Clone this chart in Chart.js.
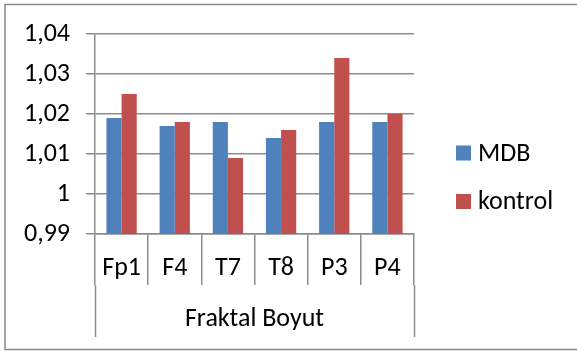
<!DOCTYPE html>
<html>
<head>
<meta charset="utf-8">
<script src="https://cdn.jsdelivr.net/npm/chart.js@4/dist/chart.umd.min.js"></script>
<style>
  html, body { margin: 0; padding: 0; background: #fff; }
  #wrap { width: 577px; height: 351px; position: relative; }
</style>
</head>
<body>
<div id="wrap"><canvas id="c" width="577" height="351"></canvas></div>
<script>
const categories = ['Fp1', 'F4', 'T7', 'T8', 'P3', 'P4'];
const groupLabel = 'Fraktal Boyut';
const seriesNames = ['MDB', 'kontrol'];
const mdbValues = [1.019, 1.017, 1.018, 1.014, 1.018, 1.018];
const kontrolValues = [1.025, 1.018, 1.009, 1.016, 1.034, 1.020];
const yMin = 0.99, yMax = 1.04, yStep = 0.01;

const FONT = 'Carlito, Calibri, Lato, sans-serif';
const FSIZE = 26;
const GRID = '#8c8c8c';
const COLORS = ['#4F81BD', '#C0504D'];

function fmt(v) {
  return String(Number(v.toFixed(2))).replace('.', ',');
}

const decor = {
  id: 'decor',
  afterDraw(chart) {
    const ctx = chart.ctx;
    const area = chart.chartArea;
    ctx.save();
    // extended outer separators of group
    ctx.strokeStyle = GRID;
    ctx.lineWidth = 1.5;
    [area.left, area.right].forEach(px => {
      ctx.beginPath();
      ctx.moveTo(Math.round(px) + 0.5, area.bottom + 51);
      ctx.lineTo(Math.round(px) + 0.5, 337);
      ctx.stroke();
    });
    // group label
    ctx.fillStyle = '#000';
    ctx.font = FSIZE + 'px ' + FONT;
    ctx.textAlign = 'center';
    ctx.textBaseline = 'middle';
    ctx.fillText(groupLabel, (area.left + area.right) / 2, 319);
    // legend
    const ys = [153, 201.5];
    chart.data.datasets.forEach((ds, i) => {
      ctx.fillStyle = ds.backgroundColor;
      ctx.fillRect(456, ys[i] - 7.5, 15, 15);
      ctx.fillStyle = '#000';
      ctx.textAlign = 'left';
      ctx.fillText(ds.label, 478, ys[i] + 1);
    });
    // outer border
    ctx.strokeStyle = '#888';
    ctx.lineWidth = 1.5;
    ctx.strokeRect(5, 4.5, 620, 345);
    ctx.restore();
  }
};

new Chart(document.getElementById('c'), {
  type: 'bar',
  data: {
    labels: categories,
    datasets: [
      { label: seriesNames[0], data: mdbValues, backgroundColor: COLORS[0] },
      { label: seriesNames[1], data: kontrolValues, backgroundColor: COLORS[1] }
    ]
  },
  options: {
    responsive: false,
    animation: false,
    devicePixelRatio: 1,
    layout: { padding: { left: 0, right: 163, top: 34, bottom: 0 } },
    plugins: { legend: { display: false }, tooltip: { enabled: false } },
    datasets: { bar: { categoryPercentage: 0.57, barPercentage: 1.0 } },
    scales: {
      x: {
        offset: true,
        grid: { display: true, drawOnChartArea: false, drawTicks: true, tickLength: 51, color: GRID, lineWidth: 1.5, offset: true },
        border: { display: true, color: GRID, width: 1.5 },
        ticks: { color: '#000', font: { family: FONT, size: FSIZE, lineHeight: 1.2 }, padding: -32.6, maxRotation: 0, autoSkip: false },
        afterFit(s) { s.height = 117; }
      },
      y: {
        min: yMin, max: yMax,
        grid: { color: GRID, lineWidth: 1.5, tickLength: 9 },
        border: { display: true, color: GRID, width: 1.5 },
        ticks: { stepSize: yStep, color: '#000', font: { family: FONT, size: FSIZE }, padding: 16, callback: v => fmt(v) },
        afterFit(s) { s.width = 95; }
      }
    }
  },
  plugins: [decor]
});
</script>
</body>
</html>
